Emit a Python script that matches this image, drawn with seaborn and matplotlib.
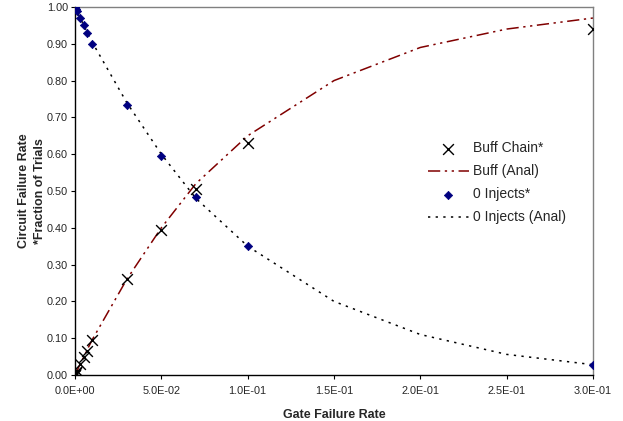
"""
Circuit failure rate vs gate failure rate: simulated trials and analytical curves.
"""

import matplotlib
matplotlib.use("Agg")
import matplotlib.pyplot as plt
import seaborn as sns
import pandas as pd

# Simulation points (fraction of trials)
sim_rate = [0, 0.0001, 0.0005, 0.001, 0.003, 0.005, 0.007, 0.01, 0.03, 0.05, 0.07, 0.1, 0.3]
buff_sim = [0, 0.001, 0.005, 0.01, 0.03, 0.048, 0.066, 0.095, 0.26, 0.395, 0.505, 0.63, 0.94]
inject_sim = [1.0, 0.999, 0.995, 0.99, 0.97, 0.95, 0.93, 0.90, 0.735, 0.595, 0.485, 0.35, 0.027]

# Analytical curves
anal_rate = [0, 0.001, 0.003, 0.005, 0.007, 0.01, 0.03, 0.05, 0.07, 0.1, 0.15, 0.2, 0.25, 0.3]
buff_anal = [0, 0.01, 0.03, 0.049, 0.068, 0.096, 0.26, 0.40, 0.52, 0.65, 0.80, 0.89, 0.94, 0.97]
inject_anal = [1.0, 0.99, 0.97, 0.951, 0.932, 0.904, 0.74, 0.60, 0.48, 0.35, 0.20, 0.11, 0.056, 0.028]

x_ticks = [0, 0.05, 0.1, 0.15, 0.2, 0.25, 0.3]
x_tick_labels = ["0.0E+00", "5.0E-02", "1.0E-01", "1.5E-01", "2.0E-01", "2.5E-01", "3.0E-01"]
y_ticks = [i / 10 for i in range(11)]

sns.set_style("white")
plt.rcParams['font.family'] = ['Liberation Sans', 'DejaVu Sans']

df_sim = pd.DataFrame({'rate': sim_rate, 'buff': buff_sim, 'inject': inject_sim})
df_anal = pd.DataFrame({'rate': anal_rate, 'buff': buff_anal, 'inject': inject_anal})

fig = plt.figure(figsize=(6.23, 4.21), dpi=100)
ax = fig.add_axes([0.1204, 0.1093, 0.8314, 0.8741])

DARK_RED = '#800000'
NAVY = '#000080'

sns.lineplot(data=df_anal, x='rate', y='inject', sort=False, estimator=None,
             color='black', linewidth=1.1, linestyle=(0, (1.5, 3.5)),
             label='0 Injects (Anal)', ax=ax, zorder=2)
sns.lineplot(data=df_anal, x='rate', y='buff', sort=False, estimator=None,
             color=DARK_RED, linewidth=1.1, linestyle=(0, (8, 3, 1.5, 3, 1.5, 3)),
             label='Buff (Anal)', ax=ax, zorder=2)
sns.scatterplot(data=df_sim, x='rate', y='inject', marker='D', s=18,
                color=NAVY, edgecolor=NAVY, linewidth=0.5,
                label='0 Injects*', ax=ax, zorder=3)
sns.scatterplot(data=df_sim, x='rate', y='buff', marker='x', s=60,
                color='black', linewidth=1.0,
                label='Buff Chain*', ax=ax, zorder=4)

ax.set_xlim(0, 0.3)
ax.set_ylim(0, 1.0)
ax.set_xticks(x_ticks)
ax.set_xticklabels(x_tick_labels)
ax.set_yticks(y_ticks)
ax.set_yticklabels([f"{v:.2f}" for v in y_ticks])
ax.tick_params(axis='both', which='major', labelsize=7.8, length=3, width=0.8,
               direction='out', color='black', bottom=True, left=True)
ax.tick_params(axis='x', pad=5)
ax.tick_params(axis='y', pad=2)

for side in ['left', 'bottom']:
    ax.spines[side].set_color('black')
    ax.spines[side].set_linewidth(1.0)
for side in ['top', 'right']:
    ax.spines[side].set_color('#808080')
    ax.spines[side].set_linewidth(1.0)

ax.set_xlabel('Gate Failure Rate', fontsize=9, fontweight='bold', labelpad=9)
ax.set_ylabel('Circuit Failure Rate\n*Fraction of Trials', fontsize=9,
              fontweight='bold', labelpad=0.5, linespacing=1.45)

# Legend in the original order
handles, labels = ax.get_legend_handles_labels()
lookup = dict(zip(labels, handles))
order = ['Buff Chain*', 'Buff (Anal)', '0 Injects*', '0 Injects (Anal)']
ax.legend([lookup[k] for k in order], order, loc='upper left',
          bbox_to_anchor=(0.67, 0.65), frameon=False, fontsize=10,
          handlelength=3.0, handletextpad=0.3, labelspacing=0.65,
          borderaxespad=0)

fig.savefig('out.png', dpi=100)
